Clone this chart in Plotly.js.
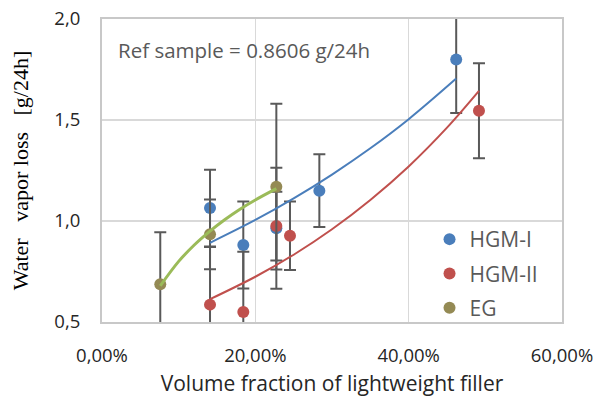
<!DOCTYPE html>
<html>
<head>
<meta charset="utf-8">
<script src="https://cdn.plot.ly/plotly-3.0.1.min.js"></script>
<style>html,body{margin:0;padding:0;background:#fff;}#chart{width:600px;height:400px;}</style>
</head>
<body>
<div id="chart"></div>
<script>
// Measured data (volume fraction, water vapor loss g/24h, error)
const xHGM1 = [0.1409, 0.1843, 0.2274, 0.2835, 0.462];
const yHGM1 = [1.064, 0.881, 0.964, 1.150, 1.800];
const eHGM1 = [0.19, 0.215, 0.30, 0.18, 0.265];

const xHGM2 = [0.1409, 0.1843, 0.2274, 0.2452, 0.4917];
const yHGM2 = [0.586, 0.550, 0.975, 0.927, 1.546];
const eHGM2 = [0.285, 0.298, 0.17, 0.17, 0.235];

const xEG = [0.076, 0.1409, 0.2274];
const yEG = [0.687, 0.934, 1.170];
const eEG = [0.257, 0.173, 0.41];

// Trendlines
const trendX1 = [0.1409, 0.20, 0.25, 0.30, 0.35, 0.40, 0.462];
const trendY1 = [0.892, 1.005, 1.112, 1.230, 1.360, 1.504, 1.705];
const trendX2 = [0.1409, 0.20, 0.25, 0.30, 0.35, 0.40, 0.45, 0.4917];
const trendY2 = [0.613, 0.724, 0.833, 0.959, 1.104, 1.270, 1.462, 1.644];
const trendX3 = [0.076, 0.10, 0.12, 0.1409, 0.16, 0.18, 0.20, 0.2274];
const trendY3 = [0.679, 0.800, 0.880, 0.950, 1.006, 1.058, 1.104, 1.160];

const seriesNames = ['HGM-I', 'HGM-II', 'EG'];
const annotationText = 'Ref sample = 0.8606 g/24h';

const cBlue = '#4a7ebb', cRed = '#c0504d', cOlive = '#948a54', cGreen = '#9bbb59';
const errStyle = {color: '#595959', thickness: 2, width: 6};

function pts(x, y, e, name, color, group) {
  return {
    x: x, y: y, type: 'scatter', mode: 'markers', name: name,
    legendgroup: group,
    marker: {color: color, size: 12},
    error_y: Object.assign({type: 'data', array: e, visible: true}, errStyle)
  };
}
function trend(x, y, color, w) {
  return {x: x, y: y, type: 'scatter', mode: 'lines', showlegend: false,
    hoverinfo: 'skip', line: {color: color, width: w, shape: 'spline'}};
}

const data = [
  pts(xHGM1, yHGM1, eHGM1, seriesNames[0], cBlue, 'a'),
  pts(xHGM2, yHGM2, eHGM2, seriesNames[1], cRed, 'b'),
  pts(xEG, yEG, eEG, seriesNames[2], cOlive, 'c'),
  trend(trendX1, trendY1, cBlue, 2),
  trend(trendX2, trendY2, cRed, 2),
  trend(trendX3, trendY3, cGreen, 3)
];

const layout = {
  width: 600, height: 400,
  margin: {l: 102, r: 38, t: 19, b: 78},
  paper_bgcolor: '#fff', plot_bgcolor: '#fff',
  separators: ',.',
  font: {family: 'Open Sans, sans-serif', size: 16, color: '#262626'},
  showlegend: true,
  legend: {
    x: 0.712, y: 0.34, xanchor: 'left', yanchor: 'top',
    bgcolor: 'rgba(0,0,0,0)', traceorder: 'grouped', tracegroupgap: 4,
    font: {family: 'Open Sans, sans-serif', size: 21, color: '#595959'},
    itemwidth: 30
  },
  xaxis: {
    range: [0, 0.6], dtick: 0.2, tick0: 0, tickformat: '.2%',
    showgrid: true, gridcolor: '#d9d9d9', gridwidth: 1.5,
    showline: true, linecolor: '#c8c8c8', linewidth: 2, mirror: true,
    zeroline: false, ticks: 'outside', ticklen: 16, tickcolor: 'rgba(0,0,0,0)',
    tickfont: {size: 18.5, color: '#262626'},
    title: {text: 'Volume fraction of lightweight filler', standoff: 10,
      font: {size: 21, color: '#262626'}}
  },
  yaxis: {
    range: [0.5, 2.0], dtick: 0.5, tick0: 0.5, tickformat: '.1f',
    showgrid: true, gridcolor: '#d9d9d9', gridwidth: 1.5,
    showline: true, linecolor: '#c8c8c8', linewidth: 2, mirror: true,
    zeroline: false, ticks: 'outside', ticklen: 16, tickcolor: 'rgba(0,0,0,0)',
    tickfont: {size: 18.5, color: '#262626'},
    title: {text: 'Water\u00a0\u00a0 vapor loss\u00a0\u00a0 [g/24h]', standoff: 20,
      font: {family: 'Liberation Serif, serif', size: 22, color: '#000'}}
  },
  annotations: [{
    text: annotationText, xref: 'paper', yref: 'paper',
    x: 0.03, y: 0.898, xanchor: 'left', yanchor: 'middle', showarrow: false,
    font: {family: 'Open Sans, sans-serif', size: 20.5, color: '#595959'}
  }]
};

Plotly.newPlot('chart', data, layout, {displayModeBar: false, staticPlot: true});
</script>
</body>
</html>
